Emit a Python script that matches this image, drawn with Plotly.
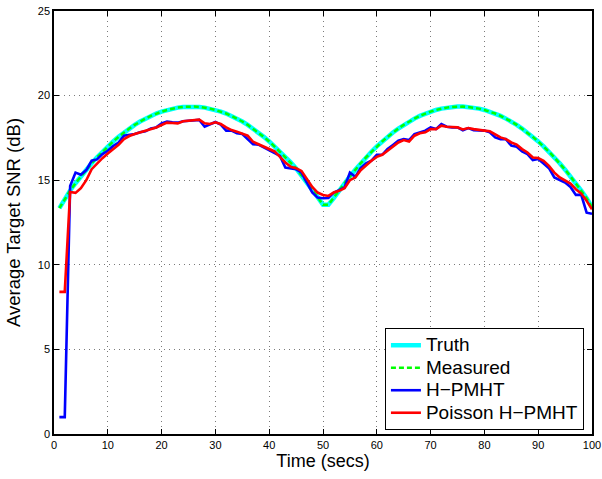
import plotly.graph_objects as go

time = list(range(1, 101))

truth = [
    13.35, 13.90, 14.39, 14.82, 15.23, 15.62, 16.00, 16.35, 16.68, 17.00,
    17.29, 17.56, 17.82, 18.05, 18.27, 18.47, 18.64, 18.80, 18.94, 19.05,
    19.15, 19.23, 19.29, 19.33, 19.35, 19.35, 19.33, 19.29, 19.23, 19.15,
    19.05, 18.94, 18.80, 18.64, 18.47, 18.27, 18.05, 17.82, 17.56, 17.29,
    17.00, 16.68, 16.35, 16.05, 15.70, 15.30, 14.90, 14.45, 14.00, 13.55,
    13.55, 13.94, 14.39, 14.82, 15.23, 15.62, 16.00, 16.35, 16.68, 17.00,
    17.29, 17.56, 17.82, 18.05, 18.27, 18.47, 18.64, 18.80, 18.94, 19.05,
    19.15, 19.23, 19.29, 19.33, 19.35, 19.35, 19.33, 19.29, 19.23, 19.15,
    19.05, 18.94, 18.80, 18.64, 18.47, 18.27, 18.05, 17.82, 17.56, 17.29,
    17.00, 16.68, 16.35, 16.00, 15.62, 15.23, 14.82, 14.39, 13.94, 13.40,
]

measured = [
    13.35, 13.90, 14.39, 14.82, 15.23, 15.62, 16.00, 16.35, 16.68, 17.00,
    17.29, 17.56, 17.82, 18.05, 18.27, 18.47, 18.64, 18.80, 18.94, 19.05,
    19.15, 19.23, 19.29, 19.33, 19.35, 19.35, 19.33, 19.29, 19.23, 19.15,
    19.05, 18.94, 18.80, 18.64, 18.47, 18.27, 18.05, 17.82, 17.56, 17.29,
    17.00, 16.68, 16.35, 16.05, 15.70, 15.30, 14.90, 14.45, 14.00, 13.55,
    13.55, 13.94, 14.39, 14.82, 15.23, 15.62, 16.00, 16.35, 16.68, 17.00,
    17.29, 17.56, 17.82, 18.05, 18.27, 18.47, 18.64, 18.80, 18.94, 19.05,
    19.15, 19.23, 19.29, 19.33, 19.35, 19.35, 19.33, 19.29, 19.23, 19.15,
    19.05, 18.94, 18.80, 18.64, 18.47, 18.27, 18.05, 17.82, 17.56, 17.29,
    17.00, 16.68, 16.35, 16.00, 15.62, 15.23, 14.82, 14.39, 13.94, 13.40,
]

h_pmht = [
    1.00, 1.00, 14.65, 15.45, 15.32, 15.60, 16.15, 16.23, 16.54, 16.74,
    17.02, 17.23, 17.63, 17.67, 17.73, 17.83, 17.89, 18.06, 18.12, 18.36,
    18.46, 18.42, 18.40, 18.48, 18.52, 18.52, 18.56, 18.16, 18.32, 18.44,
    18.28, 17.93, 17.93, 17.77, 17.73, 17.43, 17.13, 17.10, 16.94, 16.78,
    16.64, 16.44, 15.75, 15.71, 15.65, 15.45, 14.86, 14.27, 13.97, 13.93,
    13.95, 14.27, 14.41, 14.57, 15.45, 15.20, 15.71, 15.99, 16.15, 16.50,
    16.50, 16.84, 17.08, 17.33, 17.43, 17.37, 17.73, 17.83, 17.93, 18.12,
    18.02, 18.32, 18.16, 18.12, 18.12, 17.95, 18.08, 17.96, 17.96, 17.93,
    17.83, 17.53, 17.43, 17.43, 17.04, 16.98, 16.70, 16.54, 16.19, 16.25,
    15.99, 15.71, 15.16, 15.00, 14.86, 14.60, 14.13, 14.13, 13.08, 13.02,
]

poisson_h_pmht = [
    8.40, 8.40, 14.30, 14.25, 14.53, 15.00, 15.65, 15.99, 16.30, 16.58,
    16.84, 17.10, 17.43, 17.61, 17.73, 17.83, 17.89, 18.02, 18.12, 18.26,
    18.40, 18.38, 18.36, 18.48, 18.52, 18.56, 18.58, 18.36, 18.32, 18.42,
    18.32, 18.12, 17.96, 17.87, 17.77, 17.63, 17.27, 17.13, 16.98, 16.86,
    16.70, 16.38, 16.05, 15.79, 15.71, 15.55, 15.06, 14.60, 14.27, 14.13,
    14.07, 14.27, 14.37, 14.53, 15.00, 15.16, 15.59, 15.89, 16.15, 16.38,
    16.50, 16.74, 16.98, 17.23, 17.37, 17.29, 17.63, 17.77, 17.83, 18.02,
    18.02, 18.22, 18.16, 18.16, 18.12, 18.00, 18.08, 18.02, 17.96, 17.93,
    17.89, 17.73, 17.53, 17.43, 17.23, 17.10, 16.84, 16.64, 16.34, 16.31,
    16.15, 15.85, 15.45, 15.16, 15.00, 14.80, 14.47, 14.21, 13.78, 13.28,
]

series_names = ["Truth", "Measured", "H\u2212PMHT", "Poisson H\u2212PMHT"]

x_ticks = [0, 10, 20, 30, 40, 50, 60, 70, 80, 90, 100]
y_ticks = [0, 5, 10, 15, 20, 25]

FONT = "Arial, Liberation Sans, Helvetica, sans-serif"


def legend_label(name):
    return '<span style="font-size:19px">' + name + '</span>'


fig = go.Figure()
fig.add_trace(go.Scatter(x=time, y=truth, name=legend_label(series_names[0]), mode="lines",
                         line=dict(color="#00FFFF", width=4.5)))
fig.add_trace(go.Scatter(x=time, y=measured, name=legend_label(series_names[1]), mode="lines",
                         line=dict(color="#00FF00", width=2.5, dash="5px,3px")))
fig.add_trace(go.Scatter(x=time, y=h_pmht, name=legend_label(series_names[2]), mode="lines",
                         line=dict(color="#0000FF", width=2.6)))
fig.add_trace(go.Scatter(x=time, y=poisson_h_pmht, name=legend_label(series_names[3]), mode="lines",
                         line=dict(color="#FF0000", width=2.6)))

axis_common = dict(
    showline=True, linecolor="black", linewidth=1.5, mirror="ticks",
    ticks="inside", ticklen=5, tickcolor="black", tickwidth=1,
    showgrid=True, gridcolor="#7a7a7a", gridwidth=1, griddash="1px,4px",
    zeroline=False, automargin=False,
    tickfont=dict(family=FONT, size=11, color="black"),
)

fig.update_xaxes(range=[0, 100], tickvals=x_ticks, ticktext=[str(v) for v in x_ticks],
                 title=dict(text="Time (secs)", font=dict(family=FONT, size=18, color="black"),
                            standoff=3),
                 **axis_common)
fig.update_yaxes(range=[0, 25], tickvals=y_ticks, ticktext=[str(v) for v in y_ticks],
                 title=dict(text="Average Target SNR (dB)", font=dict(family=FONT, size=18.5, color="black"),
                            standoff=12),
                 **axis_common)

fig.update_layout(
    width=602, height=479,
    margin=dict(l=54, r=10, t=11, b=45),
    paper_bgcolor="white", plot_bgcolor="white",
    showlegend=True,
    legend=dict(x=0.985, y=0.0095, xanchor="right", yanchor="bottom",
                bgcolor="white", bordercolor="black", borderwidth=1,
                font=dict(family=FONT, size=15, color="black"),
                tracegroupgap=0, itemwidth=30),
)

fig.write_html("out.html")
